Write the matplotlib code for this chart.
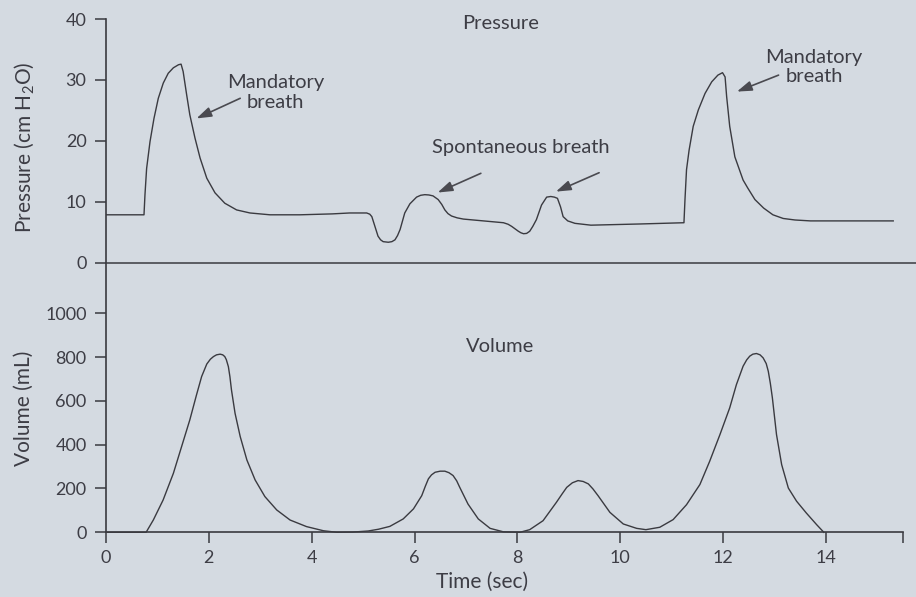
import matplotlib
matplotlib.use("Agg")
import matplotlib.pyplot as plt
from matplotlib.lines import Line2D

plt.rcParams['font.family'] = ['Lato', 'DejaVu Sans']
plt.rcParams['mathtext.default'] = 'regular'

# ---- data ----
pressure_t = [0, 0.739, 0.758, 0.79, 0.856, 0.933, 1.017, 1.114, 1.21, 1.31, 1.41, 1.46,
              1.50, 1.57, 1.63, 1.73, 1.83, 1.96, 2.12, 2.31, 2.54, 2.80, 3.19, 3.77,
              4.4, 4.74, 5.07, 5.13, 5.17, 5.23, 5.29, 5.34, 5.39, 5.49, 5.56, 5.62, 5.67,
              5.72, 5.81, 5.91, 6.04, 6.12, 6.20, 6.28, 6.36, 6.46, 6.53, 6.59, 6.65, 6.72,
              6.83, 6.95, 7.34, 7.73, 7.82, 7.89, 8.02, 8.07, 8.12, 8.18, 8.24, 8.30, 8.37,
              8.47, 8.57, 8.65, 8.72, 8.78, 8.84, 8.89, 8.98, 9.12, 9.43,
              10.4, 11.24, 11.26, 11.29, 11.34, 11.42, 11.52, 11.65, 11.78, 11.90, 11.99,
              12.04, 12.07, 12.13, 12.23, 12.39, 12.48, 12.62, 12.79, 12.97, 13.17, 13.4,
              13.70, 14.5, 15.31]
pressure_v = [7.9, 7.9, 11.2, 15.5, 19.9, 23.7, 27.0, 29.5, 31.1, 32.0, 32.5, 32.6,
              31.4, 27.5, 24.3, 20.5, 17.2, 13.9, 11.5, 9.8, 8.7, 8.2, 7.9, 7.9,
              8.05, 8.2, 8.2, 8.0, 7.6, 6.0, 4.4, 3.8, 3.5, 3.4, 3.5, 3.8, 4.5,
              5.5, 8.2, 9.7, 10.8, 11.1, 11.2, 11.15, 11.0, 10.4, 9.6, 8.7, 8.1, 7.7,
              7.4, 7.2, 6.9, 6.6, 6.35, 6.0, 5.2, 4.95, 4.8, 4.85, 5.2, 6.0, 7.1,
              9.5, 10.8, 10.9, 10.8, 10.6, 9.2, 7.6, 6.9, 6.5, 6.2,
              6.4, 6.6, 10.4, 15.3, 18.5, 22.4, 25.1, 27.8, 29.7, 30.8, 31.2,
              30.5, 27.3, 22.4, 17.4, 13.6, 12.3, 10.4, 9.0, 7.9, 7.3, 7.05,
              6.9, 6.9, 6.9]

volume_t = [0, 0.78, 0.92, 1.11, 1.31, 1.47, 1.63, 1.76, 1.86, 1.96, 2.03, 2.09, 2.15,
            2.22, 2.27, 2.31, 2.34, 2.38, 2.41, 2.44, 2.51, 2.61, 2.74, 2.90, 3.09, 3.32,
            3.58, 3.90, 4.23, 4.49, 4.8, 5.1, 5.3, 5.52, 5.78, 5.98, 6.14, 6.21, 6.27,
            6.33, 6.40, 6.50, 6.59, 6.67, 6.75, 6.82, 6.88, 7.04, 7.24, 7.47, 7.73, 8.05,
            8.24, 8.50, 8.76, 8.87, 8.96, 9.07, 9.18, 9.28, 9.38, 9.47, 9.57, 9.80,
            10.06, 10.32, 10.50, 10.77, 11.03, 11.29, 11.55, 11.74, 11.94, 12.13,
            12.26, 12.39, 12.46, 12.52, 12.58, 12.65, 12.72, 12.78, 12.84, 12.88, 12.92,
            12.96, 13.04, 13.14, 13.27, 13.43, 13.62, 13.82, 13.96]
volume_v = [0, 0, 56, 147, 269, 391, 513, 627, 711, 768, 790, 802, 810,
            813, 810, 802, 788, 756, 710, 650, 543, 437, 330, 239, 163, 102,
            56, 26, 7, 0, 1, 6, 14, 27, 61, 107, 167, 210, 244,
            262, 274, 279, 279, 272, 259, 235, 205, 129, 61, 18, 2, 0,
            12, 53, 137, 175, 205, 226, 236, 232, 221, 198, 167, 91,
            38, 18, 12, 23, 58, 126, 218, 324, 446, 568,
            674, 758, 787, 804, 813, 816, 810, 796, 770, 735, 680,
            613, 446, 309, 202, 142, 88, 35, 0]

x_ticks = [0, 2, 4, 6, 8, 10, 12, 14, 15.5]
x_tick_labels = ['0', '2', '4', '6', '8', '10', '12', '14', '']
p_ticks = [0, 10, 20, 30, 40]
v_ticks = [0, 200, 400, 600, 800, 1000]

BG = '#d4dae1'
INK = '#3a3a40'
TXT = '#3d3d45'
ARW = '#4a4a50'

W, H = 916, 597
fig = plt.figure(figsize=(W / 100, H / 100), dpi=100, facecolor=BG)

def fx(px):
    return px / W

def fy(py):
    return 1 - py / H

ax_p = fig.add_axes([fx(106), fy(288), fx(903) - fx(106), fy(19) - fy(288)])
ax_v = fig.add_axes([fx(106), fy(532.3), fx(903) - fx(106), fy(288) - fy(532.3)])

for ax in (ax_p, ax_v):
    ax.set_facecolor('none')
    ax.set_xlim(0, 15.5)
    for s in ('top', 'right', 'left'):
        ax.spines[s].set_visible(False)
    ax.tick_params(axis='both', colors=INK, labelcolor=TXT, labelsize=13,
                   length=8, width=1.1, direction='out', pad=6)

# continuous left axis line through both panels
fig.add_artist(Line2D([fx(106), fx(106)], [fy(19), fy(532.3)], color=INK, lw=1.2))

# ---- pressure panel ----
ax_p.set_ylim(-4.1, 40)
ax_p.spines['bottom'].set_visible(False)
ax_p.set_xticks([])
ax_p.set_yticks(p_ticks)
ax_p.plot([0, 15.75], [0, 0], color=INK, lw=1.1, clip_on=False)
ax_p.plot(pressure_t, pressure_v, color=INK, lw=1.0)

FS = 14.5
ax_p.text(7.67, 39.3, 'Pressure', ha='center', va='center', fontsize=FS, color=TXT)
ax_p.text(3.30, 27.95, 'Mandatory\nbreath', ha='center', va='center', fontsize=FS,
          color=TXT, linespacing=1.15)
ax_p.text(13.77, 32.2, 'Mandatory\nbreath', ha='center', va='center', fontsize=FS,
          color=TXT, linespacing=1.15)
ax_p.text(8.07, 18.9, 'Spontaneous breath', ha='center', va='center', fontsize=FS, color=TXT)

arrow_kw = dict(arrowstyle='-|>,head_length=0.9,head_width=0.3', color=ARW, lw=1.2,
                shrinkA=0, shrinkB=0)
ax_p.annotate('', xy=(1.76, 23.7), xytext=(2.61, 27.0), arrowprops=arrow_kw)
ax_p.annotate('', xy=(6.45, 11.55), xytext=(7.29, 14.7), arrowprops=arrow_kw)
ax_p.annotate('', xy=(8.75, 11.7), xytext=(9.59, 14.8), arrowprops=arrow_kw)
ax_p.annotate('', xy=(12.27, 28.1), xytext=(13.08, 30.8), arrowprops=arrow_kw)

# ---- volume panel ----
ax_v.set_ylim(0, 1115)
ax_v.spines['bottom'].set_color(INK)
ax_v.spines['bottom'].set_linewidth(1.2)
ax_v.set_yticks(v_ticks)
ax_v.set_xticks(x_ticks)
ax_v.set_xticklabels(x_tick_labels)
ax_v.tick_params(axis='x', pad=5)
ax_v.plot(volume_t, volume_v, color=INK, lw=1.0, clip_on=False)
ax_v.text(7.67, 847, 'Volume', ha='center', va='center', fontsize=FS, color=TXT)

# axis labels
fig.text(fx(24), fy(147), 'Pressure (cm H$_2$O)', rotation=90, ha='center', va='center',
         fontsize=15, color=TXT)
fig.text(fx(24), fy(408), 'Volume (mL)', rotation=90, ha='center', va='center',
         fontsize=15, color=TXT)
fig.text(fx(482.5), fy(582), 'Time (sec)', ha='center', va='center', fontsize=15, color=TXT)

fig.savefig('out.png', dpi=100, facecolor=BG)
